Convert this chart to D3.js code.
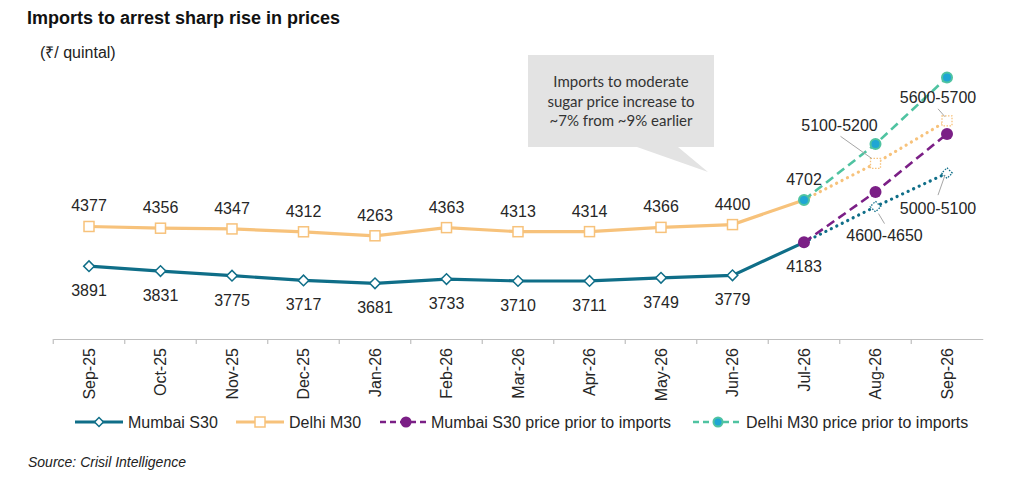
<!DOCTYPE html>
<html>
<head>
<meta charset="utf-8">
<script src="https://cdn.jsdelivr.net/npm/d3@7"></script>
<style>
  body { margin: 0; background: #fff; }
  svg { display: block; font-family: "Liberation Sans", Arial, sans-serif; }
  .dataLabel { font-size: 16px; fill: #262626; }
  .axisText { font-size: 16px; fill: #262626; }
</style>
</head>
<body>
<div id="chart"></div>
<script>
// chart values
const months = ["Sep-25", "Oct-25", "Nov-25", "Dec-25", "Jan-26", "Feb-26", "Mar-26",
                "Apr-26", "May-26", "Jun-26", "Jul-26", "Aug-26", "Sep-26"];
const mumbaiS30 = [3891, 3831, 3775, 3717, 3681, 3733, 3710, 3711, 3749, 3779, 4183];
const delhiM30 = [4377, 4356, 4347, 4312, 4263, 4363, 4313, 4314, 4366, 4400, 4702];
const forecastMonths = ["Jul-26", "Aug-26", "Sep-26"];
const mumbaiForecast = [4183, 4620, 5030];
const delhiForecast = [4702, 5150, 5670];
const mumbaiPrior = [4183, 4800, 5510];
const delhiPrior = [4702, 5385, 6200];
const mumbaiRangeLabels = ["4600-4650", "5000-5100"];
const delhiRangeLabels = ["5100-5200", "5600-5700"];
const calloutLines = ["Imports to moderate", "sugar price increase to", "~7% from ~9% earlier"];

const width = 1024, height = 481;
const colors = {
    mumbai: "#0f6e88",
    delhi: "#f7c27b",
    mumbaiPrior: "#7b1f86",
    delhiPrior: "#4fc3a1",
    delhiPriorFill: "#1fa6d4"
};

const svg = d3.select("#chart").append("svg")
    .attr("width", width)
    .attr("height", height);

const x = d3.scaleBand().domain(months).range([53.25, 982.75]).padding(0);
const cx = m => x(m) + x.bandwidth() / 2;
const y = d3.scaleLinear().domain([3000, 6500]).range([339, 53]);

// titles
svg.append("text").attr("x", 27).attr("y", 24)
    .style("font-size", "18px").style("font-weight", "bold").attr("fill", "#111")
    .text("Imports to arrest sharp rise in prices");
svg.append("text").attr("x", 40).attr("y", 58)
    .style("font-size", "16px").attr("fill", "#222")
    .text("(₹/ quintal)");

// x axis
const xAxis = d3.axisBottom(x).tickSize(0).tickFormat(d => d);
const axisG = svg.append("g").attr("transform", "translate(0,339)").call(xAxis);
axisG.select(".domain").attr("stroke", "#bfbfbf").attr("stroke-width", 1.2);
axisG.selectAll(".tick text")
    .attr("class", "axisText")
    .attr("transform", "rotate(-90)")
    .attr("text-anchor", "end")
    .attr("x", -9).attr("y", 0).attr("dy", "0.35em")
    .style("font-family", "'Liberation Sans', Arial, sans-serif");
// boundary ticks between categories
svg.append("g").selectAll("line")
    .data(months)
    .join("line")
    .attr("x1", d => x(d)).attr("x2", d => x(d))
    .attr("y1", 339).attr("y2", 344)
    .attr("stroke", "#bfbfbf").attr("stroke-width", 1.2);

// callout
const callout = svg.append("g");
callout.append("path")
    .attr("d", "M528,55 L714,55 L714,147 L678,147 L708,172 L637,147 L528,147 Z")
    .attr("fill", "#e3e3e3");
callout.selectAll("text")
    .data(calloutLines)
    .join("text")
    .attr("x", 621).attr("y", (d, i) => 87 + i * 19.5)
    .attr("text-anchor", "middle")
    .style("font-family", "Lato, 'Open Sans', sans-serif")
    .style("font-size", "15px")
    .attr("fill", "#333")
    .text(d => d);

const line = d3.line().x(d => cx(d.m)).y(d => y(d.v));
const zip = (ms, vs) => vs.map((v, i) => ({m: ms[i], v}));

const mumbaiPts = zip(months, mumbaiS30);
const delhiPts = zip(months, delhiM30);
const mumbaiFcPts = zip(forecastMonths, mumbaiForecast);
const delhiFcPts = zip(forecastMonths, delhiForecast);
const mumbaiPriorPts = zip(forecastMonths, mumbaiPrior);
const delhiPriorPts = zip(forecastMonths, delhiPrior);

const diamond = d3.symbol().type(d3.symbolDiamond2 || d3.symbolSquare).size(60);

// forecast dotted lines
svg.append("path").datum(delhiFcPts).attr("d", line)
    .attr("fill", "none").attr("stroke", colors.delhi).attr("stroke-width", 3.2)
    .attr("stroke-linecap", "round").attr("stroke-dasharray", "0.1 6");
svg.append("path").datum(mumbaiFcPts).attr("d", line)
    .attr("fill", "none").attr("stroke", colors.mumbai).attr("stroke-width", 3.2)
    .attr("stroke-linecap", "round").attr("stroke-dasharray", "0.1 6");

// prior dashed lines
svg.append("path").datum(delhiPriorPts).attr("d", line)
    .attr("fill", "none").attr("stroke", colors.delhiPrior).attr("stroke-width", 2.6)
    .attr("stroke-dasharray", "9 5");
svg.append("path").datum(mumbaiPriorPts).attr("d", line)
    .attr("fill", "none").attr("stroke", colors.mumbaiPrior).attr("stroke-width", 2.6)
    .attr("stroke-dasharray", "9 5");

// actual lines
svg.append("path").datum(delhiPts).attr("d", line)
    .attr("fill", "none").attr("stroke", colors.delhi).attr("stroke-width", 3.2);
svg.append("path").datum(mumbaiPts).attr("d", line)
    .attr("fill", "none").attr("stroke", colors.mumbai).attr("stroke-width", 3.2);

// actual markers
svg.append("g").selectAll("rect")
    .data(delhiPts.slice(0, -1))
    .join("rect")
    .attr("x", d => cx(d.m) - 5).attr("y", d => y(d.v) - 5)
    .attr("width", 10).attr("height", 10)
    .attr("fill", "#fff").attr("stroke", colors.delhi).attr("stroke-width", 1.5);
svg.append("g").selectAll("path")
    .data(mumbaiPts.slice(0, -1))
    .join("path")
    .attr("transform", d => `translate(${cx(d.m)},${y(d.v)}) rotate(45)`)
    .attr("d", d3.symbol().type(d3.symbolSquare).size(56))
    .attr("fill", "#fff").attr("stroke", colors.mumbai).attr("stroke-width", 1.5);

// forecast markers (dotted outlines)
svg.append("g").selectAll("rect")
    .data(delhiFcPts.slice(1))
    .join("rect")
    .attr("x", d => cx(d.m) - 5).attr("y", d => y(d.v) - 5)
    .attr("width", 10).attr("height", 10)
    .attr("fill", "#fff").attr("stroke", colors.delhi).attr("stroke-width", 1.3)
    .attr("stroke-dasharray", "1.5 1.5");
svg.append("g").selectAll("path")
    .data(mumbaiFcPts.slice(1))
    .join("path")
    .attr("transform", d => `translate(${cx(d.m)},${y(d.v)}) rotate(45)`)
    .attr("d", d3.symbol().type(d3.symbolSquare).size(56))
    .attr("fill", "#fff").attr("stroke", colors.mumbai).attr("stroke-width", 1.3)
    .attr("stroke-dasharray", "1.5 1.5");

// prior markers
svg.append("g").selectAll("circle")
    .data(delhiPriorPts)
    .join("circle")
    .attr("cx", d => cx(d.m)).attr("cy", d => y(d.v)).attr("r", 5)
    .attr("fill", colors.delhiPriorFill).attr("stroke", colors.delhiPrior).attr("stroke-width", 2);
svg.append("g").selectAll("circle")
    .data(mumbaiPriorPts)
    .join("circle")
    .attr("cx", d => cx(d.m)).attr("cy", d => y(d.v)).attr("r", 6)
    .attr("fill", colors.mumbaiPrior);

// value labels
svg.append("g").selectAll("text")
    .data(delhiPts)
    .join("text")
    .attr("class", "dataLabel")
    .attr("x", d => cx(d.m)).attr("y", d => y(d.v) - 15)
    .attr("text-anchor", "middle")
    .text(d => d.v);
svg.append("g").selectAll("text")
    .data(mumbaiPts)
    .join("text")
    .attr("class", "dataLabel")
    .attr("x", d => cx(d.m)).attr("y", d => y(d.v) + 30)
    .attr("text-anchor", "middle")
    .text(d => d.v);

// range labels with leader lines
const rangeLabels = [
    {pt: delhiFcPts[1], text: delhiRangeLabels[0], dx: -36, dy: -38, l: [-35, -27, -4, -5]},
    {pt: delhiFcPts[2], text: delhiRangeLabels[1], dx: -9, dy: -23, l: [-9, -12, -2, -4]},
    {pt: mumbaiFcPts[1], text: mumbaiRangeLabels[0], dx: 9, dy: 29, l: [9, 17, 3, 7]},
    {pt: mumbaiFcPts[2], text: mumbaiRangeLabels[1], dx: -9, dy: 35, l: [-9, 22, -2, 2]}
];
const rl = svg.append("g");
rl.selectAll("line")
    .data(rangeLabels)
    .join("line")
    .attr("x1", d => cx(d.pt.m) + d.l[0]).attr("y1", d => y(d.pt.v) + d.l[1])
    .attr("x2", d => cx(d.pt.m) + d.l[2]).attr("y2", d => y(d.pt.v) + d.l[3])
    .attr("stroke", "#a6a6a6").attr("stroke-width", 1);
rl.selectAll("text")
    .data(rangeLabels)
    .join("text")
    .attr("class", "dataLabel")
    .attr("x", d => cx(d.pt.m) + d.dx).attr("y", d => y(d.pt.v) + d.dy + 5.5)
    .attr("text-anchor", "middle")
    .text(d => d.text);

// legend
const legendItems = [
    {name: "Mumbai S30", color: colors.mumbai, x: 75, w: 48, kind: "diamond"},
    {name: "Delhi M30", color: colors.delhi, x: 236, w: 48, kind: "square"},
    {name: "Mumbai S30 price prior to imports", color: colors.mumbaiPrior, x: 380, w: 46, kind: "dot"},
    {name: "Delhi M30 price prior to imports", color: colors.delhiPrior, x: 693, w: 48, kind: "dot2"}
];
const lg = svg.append("g").attr("transform", "translate(0,422)");
const li = lg.selectAll("g").data(legendItems).join("g")
    .attr("transform", d => `translate(${d.x},0)`);
li.append("line")
    .attr("x1", 0).attr("x2", d => d.w)
    .attr("stroke", d => d.color)
    .attr("stroke-width", d => d.kind.startsWith("dot") ? 2.6 : 3.2)
    .attr("stroke-dasharray", d => d.kind.startsWith("dot") ? "6 4" : null);
li.filter(d => d.kind === "diamond").append("path")
    .attr("transform", d => `translate(${d.w / 2},0) rotate(45)`)
    .attr("d", d3.symbol().type(d3.symbolSquare).size(40))
    .attr("fill", "#fff").attr("stroke", d => d.color).attr("stroke-width", 1.5);
li.filter(d => d.kind === "square").append("rect")
    .attr("x", d => d.w / 2 - 5).attr("y", -5).attr("width", 10).attr("height", 10)
    .attr("fill", "#fff").attr("stroke", d => d.color).attr("stroke-width", 1.5);
li.filter(d => d.kind === "dot").append("circle")
    .attr("cx", d => d.w / 2 + 3).attr("r", 5.5).attr("fill", d => d.color);
li.filter(d => d.kind === "dot2").append("circle")
    .attr("cx", d => d.w / 2 + 1).attr("r", 4.5)
    .attr("fill", colors.delhiPriorFill).attr("stroke", d => d.color).attr("stroke-width", 2);
li.append("text")
    .attr("x", d => d.w + 5).attr("y", 0).attr("dy", "0.35em")
    .style("font-size", "16px").attr("fill", "#262626")
    .text(d => d.name);

// source
svg.append("text").attr("x", 28).attr("y", 467)
    .style("font-size", "14px").style("font-style", "italic").attr("fill", "#222")
    .text("Source: Crisil Intelligence");
</script>
</body>
</html>
